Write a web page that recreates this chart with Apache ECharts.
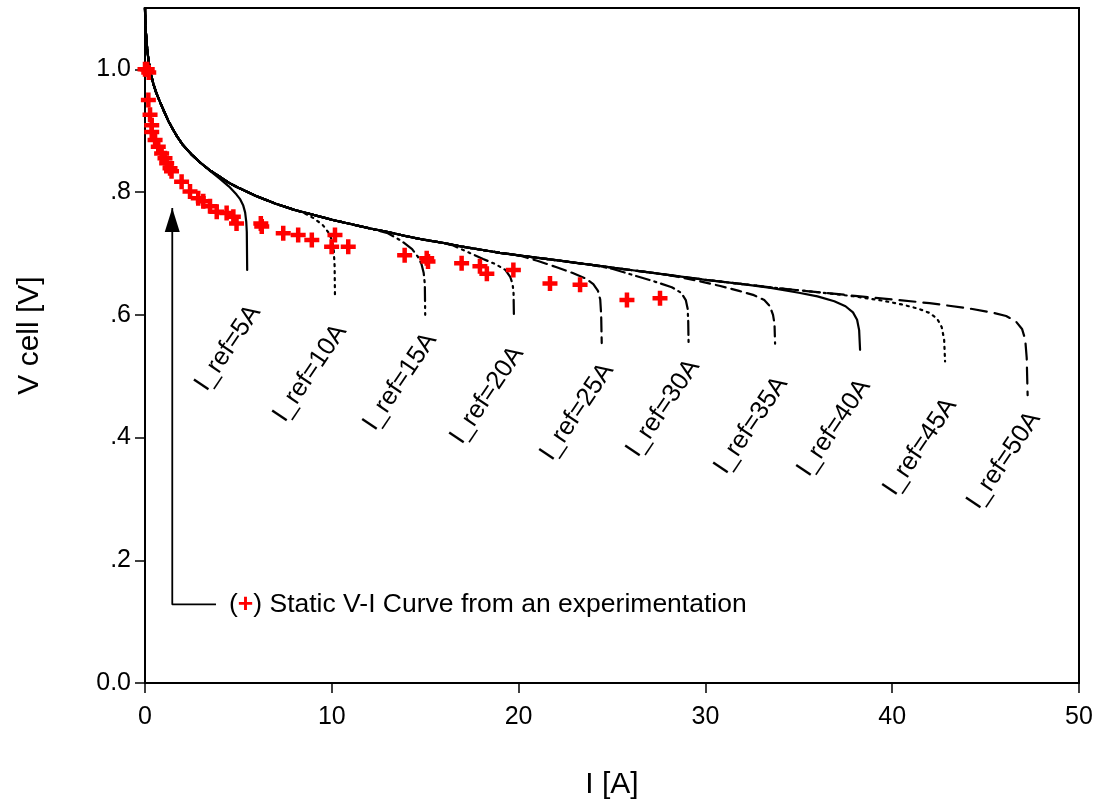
<!DOCTYPE html>
<html><head><meta charset="utf-8">
<script src="https://cdn.jsdelivr.net/npm/echarts@6/dist/echarts.min.js"></script>
<style>html,body{margin:0;padding:0;background:#fff}#c{width:1107px;height:807px}</style>
</head><body><div id="c"></div>
<script>
// ---- tick labels ----
const xTickValues = [0, 10, 20, 30, 40, 50];
const xTickLabels = ['0', '10', '20', '30', '40', '50'];
const yTickValues = [0, 0.2, 0.4, 0.6, 0.8, 1.0];
const yTickLabels = ['0.0', '.2', '.4', '.6', '.8', '1.0'];

// ---- shared part of the simulated V-I curves (I [A], V [V]) ----
const baseCurve = [[0,1.100],[0.01,1.085],[0.05,1.060],[0.12,1.032],[0.2,1.012],[0.3,0.994],[0.45,0.976],[0.6,0.962],[0.8,0.947],[1.0,0.933],[1.25,0.916],[1.5,0.902],[1.75,0.889],[2.0,0.878],[2.5,0.861],[3.0,0.847],[3.5,0.835],[4.0,0.825],[4.5,0.815],[5.0,0.807],[6.0,0.793],[7.0,0.781],[8.0,0.771],[9.0,0.763],[10.0,0.755],[11.0,0.748],[12.0,0.741],[13.0,0.735],[14.0,0.728],[15.0,0.722],[16.0,0.717],[17.0,0.711],[18.0,0.706],[19.0,0.701],[20.0,0.697],[22.0,0.689],[24.0,0.681],[26.0,0.673],[28.0,0.665],[30.0,0.657],[32.0,0.650],[34.0,0.643],[36.0,0.637],[38.0,0.631],[40.0,0.625],[42.0,0.619],[44.0,0.614],[46.0,0.609],[47.0,0.607]];

// ---- individual tails (where each curve leaves the shared part) ----
const tail5A  = [[3.5,0.834],[4.0,0.822],[4.5,0.809],[4.9,0.796],[5.1,0.788],[5.26,0.778],[5.36,0.767],[5.42,0.752],[5.45,0.735],[5.47,0.673]];
const tail10A = [[8.5,0.766],[9.0,0.758],[9.5,0.747],[9.85,0.733],[10.0,0.722],[10.1,0.707],[10.15,0.68],[10.17,0.631]];
const tail15A = [[13.0,0.733],[13.7,0.721],[14.3,0.707],[14.6,0.695],[14.8,0.683],[14.92,0.668],[14.98,0.65],[15.0,0.600]];
const tail20A = [[16.5,0.713],[17.3,0.702],[18.1,0.691],[18.8,0.682],[19.3,0.673],[19.55,0.662],[19.68,0.650],[19.73,0.635],[19.75,0.597]];
const tail25A = [[21.0,0.688],[22.0,0.678],[22.9,0.668],[23.6,0.659],[24.0,0.650],[24.25,0.639],[24.37,0.625],[24.42,0.60],[24.45,0.554]];
const tail30A = [[25.0,0.675],[26.1,0.665],[27.2,0.655],[28.2,0.645],[28.7,0.636],[28.95,0.624],[29.05,0.61],[29.08,0.59],[29.1,0.553]];
const tail35A = [[29.5,0.656],[30.8,0.647],[31.8,0.639],[32.6,0.632],[33.15,0.624],[33.45,0.614],[33.62,0.60],[33.7,0.585],[33.73,0.553]];
const tail40A = [[33.5,0.644],[35.0,0.636],[36.0,0.630],[36.9,0.622],[37.5,0.614],[37.9,0.604],[38.12,0.592],[38.23,0.575],[38.28,0.543]];
const tail45A = [[38.0,0.630],[39.5,0.623],[40.5,0.617],[41.4,0.610],[42.0,0.603],[42.4,0.594],[42.65,0.580],[42.78,0.560],[42.83,0.524]];
const tail50A = [[42.0,0.619],[44.0,0.611],[45.3,0.604],[46.1,0.598],[46.6,0.590],[46.95,0.577],[47.12,0.560],[47.2,0.53],[47.25,0.469]];

const refNames  = ['I_ref=5A','I_ref=10A','I_ref=15A','I_ref=20A','I_ref=25A','I_ref=30A','I_ref=35A','I_ref=40A','I_ref=45A','I_ref=50A'];
const refLabelI = [4.44, 8.83, 13.65, 18.31, 23.13, 27.73, 32.44, 36.88, 41.49, 45.98];
const refLabelV = [0.546, 0.505, 0.491, 0.469, 0.442, 0.448, 0.420, 0.416, 0.385, 0.363];

// ---- experimental static V-I points ----
const expI = [0.0,0.12,0.2,0.18,0.27,0.36,0.36,0.54,0.71,0.89,1.07,1.16,1.34,1.42,1.96,2.41,2.85,3.12,3.48,3.84,4.37,4.73,4.9,6.2,6.25,7.4,8.2,8.93,10.17,9.99,10.88,13.9,15.08,15.15,16.95,17.93,18.3,19.72,21.68,23.29,25.8,27.57];
const expV = [1.0,1.0,0.995,0.950,0.926,0.909,0.898,0.885,0.874,0.863,0.855,0.847,0.839,0.834,0.817,0.801,0.790,0.785,0.777,0.768,0.766,0.760,0.749,0.749,0.744,0.733,0.730,0.722,0.730,0.711,0.711,0.697,0.692,0.687,0.684,0.679,0.667,0.673,0.651,0.649,0.624,0.627];

// ---- annotation arrow (data coords) ----
const arrowI = [3.80, 1.46, 1.46];
const arrowV = [0.128, 0.128, 0.774];
const noteText = '({r|+}) Static V-I Curve from an experimentation';

const tails = [tail5A, tail10A, tail15A, tail20A, tail25A, tail30A, tail35A, tail40A, tail45A, tail50A];
const dashes = ['solid', [2,5], [14,5,2,5], [14,5,2,5,2,5], [14,6], [14,5,2,5], [10,6], 'solid', [2,5], [16,8]];

const FONT = '"Liberation Sans", Arial, sans-serif';
const crossPath = 'path://M3.5,0H6.5V3.5H10V6.5H6.5V10H3.5V6.5H0V3.5H3.5Z';

const series = [];
tails.forEach((t, k) => {
  const pts = baseCurve.filter(p => p[0] < t[0][0]).concat(t);
  series.push({
    type: 'line', data: pts, showSymbol: false, symbol: 'none',
    smooth: false, silent: true, z: 2,
    lineStyle: { color: '#000', width: 2.2, type: dashes[k], cap: 'round', join: 'round' }
  });
});
series.push({
  type: 'line', data: arrowI.map((x, i) => [x, arrowV[i]]), symbol: 'none', silent: true,
  lineStyle: { color: '#000', width: 1.8 }, z: 3
});
series.push({
  type: 'scatter', data: [[arrowI[2], arrowV[2]]], symbol: 'triangle', symbolSize: [15, 24],
  symbolOffset: [0, '50%'], itemStyle: { color: '#000', opacity: 1 }, silent: true, z: 3
});
series.push({
  type: 'scatter', data: [[arrowI[0], arrowV[0]]], symbolSize: 0, silent: true, z: 4,
  itemStyle: { opacity: 1 },
  label: { show: true, position: 'right', distance: 13, formatter: noteText,
    fontFamily: FONT, fontSize: 26.5, color: '#000',
    rich: { r: { color: '#ff0000', fontWeight: 'bold', fontSize: 26.5, fontFamily: FONT } } }
});
series.push({
  type: 'scatter', data: refLabelI.map((x, i) => [x, refLabelV[i]]), symbolSize: 0, silent: true, z: 4,
  itemStyle: { opacity: 1 },
  label: { show: true, position: 'inside', rotate: 56, fontFamily: FONT, fontSize: 25.5, color: '#000',
    formatter: p => refNames[p.dataIndex] }
});
series.push({
  type: 'scatter', data: expI.map((x, i) => [x, expV[i]]), symbol: crossPath, symbolSize: 15,
  itemStyle: { color: '#ff0000', opacity: 1 }, silent: true, z: 5
});

const chart = echarts.init(document.getElementById('c'), null, { renderer: 'canvas' });
chart.setOption({
  backgroundColor: '#fff',
  animation: false,
  grid: { left: 145, right: 28, top: 8, bottom: 124, show: true, borderColor: '#000', borderWidth: 2 },
  xAxis: {
    type: 'value', min: 0, max: 50, interval: 10,
    name: 'I [A]', nameLocation: 'middle', nameGap: 87,
    nameTextStyle: { fontFamily: FONT, fontSize: 30, color: '#000' },
    axisLine: { show: true, lineStyle: { color: '#000', width: 2 } },
    axisTick: { show: true, inside: false, length: 10, lineStyle: { color: '#000', width: 1.5 } },
    axisLabel: { fontFamily: FONT, fontSize: 25, color: '#000', margin: 22,
      formatter: v => { const i = xTickValues.indexOf(v); return i >= 0 ? xTickLabels[i] : ''; } },
    splitLine: { show: false }
  },
  yAxis: {
    type: 'value', min: 0, max: 1.1,
    name: 'V cell [V]', nameLocation: 'middle', nameGap: 100,
    nameTextStyle: { fontFamily: FONT, fontSize: 30, color: '#000', padding: [0, 0, 0, 20] },
    axisLine: { show: true, lineStyle: { color: '#000', width: 2 } },
    axisTick: { show: true, inside: false, length: 10, customValues: yTickValues, lineStyle: { color: '#000', width: 1.5 } },
    axisLabel: { fontFamily: FONT, fontSize: 25, color: '#000', margin: 14, customValues: yTickValues,
      formatter: v => { const i = yTickValues.findIndex(t => Math.abs(t - v) < 1e-9); return i >= 0 ? yTickLabels[i] : ''; } },
    splitLine: { show: false }
  },
  series: series
});
</script>
</body></html>
